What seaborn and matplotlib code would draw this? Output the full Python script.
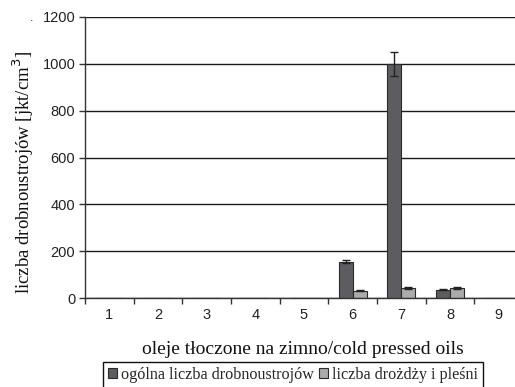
import matplotlib
matplotlib.use("Agg")
import matplotlib.pyplot as plt
import seaborn as sns
import pandas as pd
import numpy as np

oils = ["1", "2", "3", "4", "5", "6", "7", "8", "9"]
series_names = ["ogólna liczba drobnoustrojów", "liczba drożdży i pleśni"]
total_counts = [0, 0, 0, 0, 0, 155, 1000, 36, 0]
total_err = [0, 0, 0, 0, 0, 7, 50, 2, 0]
yeast_counts = [0, 0, 0, 0, 0, 31, 43, 43, 0]
yeast_err = [0, 0, 0, 0, 0, 2, 3, 3, 0]
y_ticks = [0, 200, 400, 600, 800, 1000, 1200]
colors = ["#5c5c62", "#ababab"]

df = pd.DataFrame({
    "oil": oils * 2,
    "value": total_counts + yeast_counts,
    "series": [series_names[0]] * len(oils) + [series_names[1]] * len(oils),
})

sns.set_style("white")
plt.rcParams['font.family'] = ['Liberation Sans', 'DejaVu Sans']
serif = ["Liberation Serif", "DejaVu Serif"]

W, H = 515, 387
fig = plt.figure(figsize=(W / 100, H / 100), dpi=100)
ax_l, ax_b, ax_w, ax_h = 85, 298, 438, 281
ax = fig.add_axes([ax_l / W, (H - ax_b) / H, ax_w / W, ax_h / H])

sns.barplot(data=df, x="oil", y="value", hue="series", palette=colors,
            width=0.58, edgecolor="#2a2a2a", linewidth=0.8, ax=ax,
            errorbar=None, legend=True)

errs = [total_err, yeast_err]
bar_containers = list(ax.containers)[:2]
for ci, cont in enumerate(bar_containers):
    for bi, bar in enumerate(list(cont)):
        e = errs[ci][bi]
        if e > 0:
            xc = bar.get_x() + bar.get_width() / 2
            ax.errorbar(xc, bar.get_height(), yerr=e, fmt="none",
                        ecolor="#222222", elinewidth=1.0, capsize=3.2, capthick=1.0)

ax.set_ylim(0, 1200)
ax.set_xlim(-0.5, 8.5)
ax.set_yticks(y_ticks)
ax.set_yticklabels([str(v) for v in y_ticks], fontsize=10.5, color="#222222")
ax.yaxis.grid(True, color="#1a1a1a", linewidth=1.0)
ax.set_axisbelow(True)
for s in ["top", "right"]:
    ax.spines[s].set_visible(False)
for s in ["left", "bottom"]:
    ax.spines[s].set_color("#333333")
    ax.spines[s].set_linewidth(1.0)

ax.tick_params(axis="y", which="major", left=True, length=4, width=1, color="#333333", pad=3)
ax.tick_params(axis="x", which="major", bottom=False, length=0, labelsize=10.5,
               labelcolor="#222222", pad=7)
ax.set_xticks(np.arange(-0.5, 9.0, 1.0), minor=True)
ax.tick_params(axis="x", which="minor", bottom=True, length=4, width=1, color="#333333")

ax.set_xlabel("oleje tłoczone na zimno/cold pressed oils", family=serif,
              fontsize=14, color="#111111", va="center")
ax.xaxis.set_label_coords((303 - ax_l) / ax_w, (ax_b - 349) / ax_h)
ax.set_ylabel("liczba drobnoustrojów [jkt/cm$^3$]", family=serif,
              fontsize=13.5, color="#111111", va="center")
ax.yaxis.set_label_coords((23 - ax_l) / ax_w, (ax_b - 172) / ax_h)

fig.text(30 / W, 1 - 21 / H, ".", fontsize=9, color="#333333")

ax.get_legend().remove()
handles = [plt.Rectangle((0, 0), 1, 1, facecolor=c, edgecolor="#2a2a2a", linewidth=0.8) for c in colors]
leg = fig.legend(handles, series_names, loc="center", bbox_to_anchor=(293 / W, 1 - 375 / H),
                 ncol=2, frameon=True, fancybox=False, edgecolor="#111111", framealpha=1,
                 handlelength=0.56, handleheight=0.56, handletextpad=0.25, columnspacing=0.3,
                 borderpad=0.3, borderaxespad=0,
                 prop={"family": serif, "size": 11.6})
leg.get_frame().set_linewidth(1.0)

fig.savefig("out.png", dpi=100)
